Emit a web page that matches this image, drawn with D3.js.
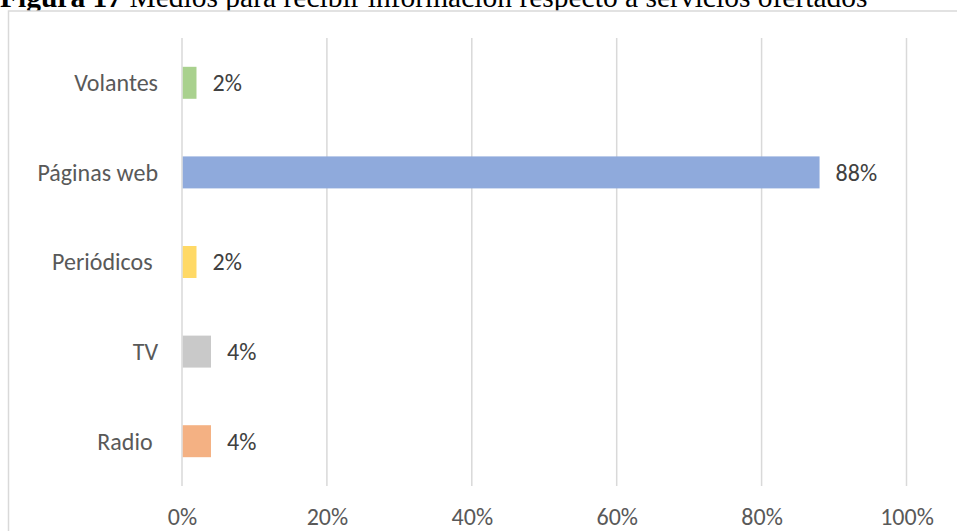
<!DOCTYPE html>
<html>
<head>
<meta charset="utf-8">
<script src="https://cdn.jsdelivr.net/npm/d3@7"></script>
<style>
  html, body { margin: 0; padding: 0; background: #fff; }
  svg { display: block; }
</style>
</head>
<body>
<svg id="chart" width="957" height="531"></svg>
<script>
// Medios para recibir información respecto a servicios ofertados
const categories = ["Volantes", "Páginas web", "Periódicos ", "TV", "Radio "];
const values = [0.02, 0.88, 0.02, 0.04, 0.04];
const colors = ["#a9d18e", "#8faadc", "#ffd966", "#c9c9c9", "#f4b183"];
const xTicks = [0, 0.2, 0.4, 0.6, 0.8, 1.0];
const titleBold = "Figura 17";
const titleRest = " Medios para recibir información respecto a servicios ofertados";

const svg = d3.select("#chart");
const labelFont = "Carlito, Calibri, Lato, sans-serif";
const textColor = "#595959";

// figure caption (sits above the chart frame, its top runs past the page edge)
const title = svg.append("text")
  .attr("x", 0).attr("y", 7)
  .attr("font-family", "'Liberation Serif', 'Times New Roman', serif")
  .attr("font-size", 29.5)
  .attr("fill", "#000");
title.append("tspan").attr("font-weight", "bold").text(titleBold);
title.append("tspan").style("white-space", "pre").text(titleRest);

// chart frame
svg.append("rect")
  .attr("x", 8.5).attr("y", 11)
  .attr("width", 1000).attr("height", 600)
  .attr("fill", "#fff")
  .attr("stroke", "#d9d9d9")
  .attr("stroke-width", 1.5);

const plot = { left: 182, right: 906.5, top: 38, bottom: 486 };

const x = d3.scaleLinear().domain([0, 1]).range([plot.left, plot.right]);
const y = d3.scaleBand()
  .domain(categories)
  .range([plot.top, plot.bottom])
  .paddingInner(0.643)
  .paddingOuter(0.3215);

// vertical gridlines
svg.append("g")
  .selectAll("line")
  .data(xTicks)
  .join("line")
  .attr("x1", d => x(d)).attr("x2", d => x(d))
  .attr("y1", plot.top).attr("y2", plot.bottom)
  .attr("stroke", "#d9d9d9")
  .attr("stroke-width", 1.5);

// x axis labels
const xAxis = d3.axisBottom(x)
  .tickValues(xTicks)
  .tickFormat(d3.format(".0%"))
  .tickSize(0)
  .tickPadding(0);
const xg = svg.append("g")
  .attr("transform", `translate(0, 508)`)
  .call(xAxis);
xg.select(".domain").remove();
xg.selectAll("text")
  .attr("font-family", labelFont)
  .attr("font-size", 24)
  .attr("fill", textColor)
  .attr("dy", "0.72em");

// y axis labels
const yAxis = d3.axisLeft(y).tickSize(0).tickPadding(0);
const yg = svg.append("g")
  .attr("transform", `translate(158, 0)`)
  .call(yAxis);
yg.select(".domain").remove();
yg.selectAll("text")
  .style("white-space", "pre")
  .attr("font-family", labelFont)
  .attr("font-size", 24)
  .attr("fill", textColor)
  .attr("dy", "0.35em");

// bars
svg.append("g")
  .selectAll("rect")
  .data(categories)
  .join("rect")
  .attr("x", x(0) + 0.75)
  .attr("y", d => y(d))
  .attr("width", (d, i) => x(values[i]) - x(0) - 0.75)
  .attr("height", y.bandwidth())
  .attr("fill", (d, i) => colors[i]);

// value labels
svg.append("g")
  .selectAll("text")
  .data(categories)
  .join("text")
  .attr("x", (d, i) => x(values[i]) + 16)
  .attr("y", d => y(d) + y.bandwidth() / 2)
  .attr("dy", "0.35em")
  .attr("font-family", labelFont)
  .attr("font-size", 24)
  .attr("fill", "#404040")
  .text((d, i) => d3.format(".0%")(values[i]));
</script>
</body>
</html>
